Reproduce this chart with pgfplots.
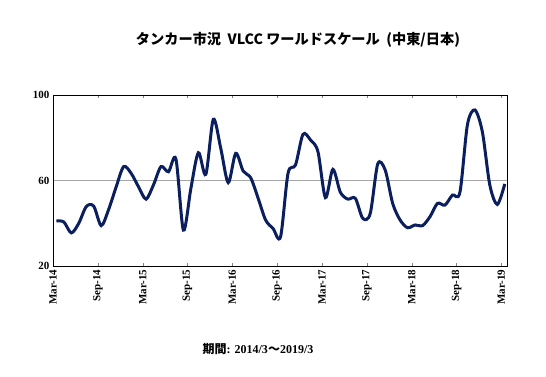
\documentclass[border=0pt]{standalone}
\usepackage{fontspec}
\usepackage{pgfplots}
\pgfplotsset{compat=1.18}
\setmainfont{Liberation Serif}
\newfontfamily\jp{Noto Sans CJK JP}
\definecolor{navy}{HTML}{0B1F5E}
\begin{document}
\begin{tikzpicture}[x=1pt,y=1pt]
\useasboundingbox (0,0) rectangle (546,376);
\begin{axis}[at={(53pt,110pt)}, anchor=south west, scale only axis,
  width=454pt, height=171pt,
  xmin=-0.45, xmax=60.3, ymin=20, ymax=100,
  ytick={20,60,100}, ymajorgrids, grid style={gray!70, line width=0.8pt},
  xtick={-0.45,5.55,11.55,17.55,23.55,29.55,35.55,41.55,47.55,53.55,59.55},
  xticklabels={Mar-14,Sep-14,Mar-15,Sep-15,Mar-16,Sep-16,Mar-17,Sep-17,Mar-18,Sep-18,Mar-19},
  xticklabel style={rotate=90, anchor=east, font=\fontsize{11}{13}\selectfont\bfseries},
  yticklabel style={font=\fontsize{11}{13}\selectfont\bfseries},
  /pgf/number format/assume math mode=true,
  tick align=inside, major tick length=3pt,
  ytick style={draw=none},
  axis line style={line width=0.8pt},
  clip=false]
\addplot[navy, line width=3pt, smooth, tension=0.5] table {
m v
0 41.1
1 40.6
2 35.5
3 40
4 47.8
5 48
6 38.9
7 46.5
8 57
9 66.5
10 63.4
11 57
12 51.3
13 58
14 66.5
15 64.1
16 70
17 36.8
18 56.3
19 73
20 62.9
21 88.6
22 75
23 59
24 72.7
25 64.4
26 61.3
27 51.7
28 41.5
29 37.5
30 33.7
31 63.4
32 67.3
33 81.6
34 79
35 73.5
36 52
37 65.2
38 54.5
39 51.3
40 51.7
41 42.3
42 44.6
43 67.7
44 64.9
45 49.3
46 41.5
47 37.9
48 39.2
49 38.9
50 43.1
51 49.3
52 48.5
53 53.2
54 54.5
55 86
56 93
57 82.8
58 57.9
59 48.8
60 58.4
};
\end{axis}
\node[font=\jp\bfseries\fontsize{14.2}{16}\selectfont] at (298,336) {タンカー市況\ \ VLCC ワールドスケール\ \ (中東/日本)};
\node[font=\fontsize{12}{14}\selectfont] at (258,27) {{\jp\bfseries 期間}\textbf{: 2014/3}{\jp\bfseries ～}\textbf{2019/3}};
\end{tikzpicture}
\end{document}
